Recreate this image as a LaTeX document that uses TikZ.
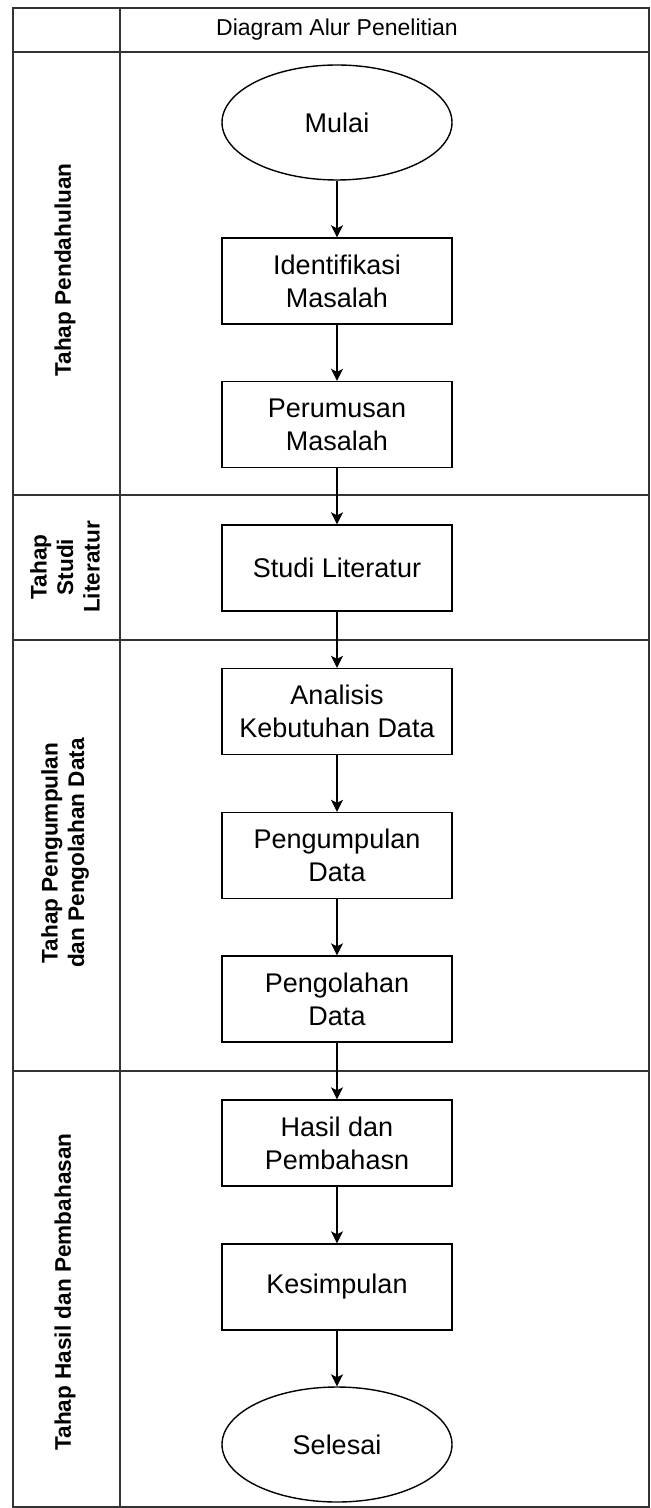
\documentclass[tikz,border=0pt]{standalone}
\usepackage{fontspec}
\setmainfont{Liberation Sans}
\usetikzlibrary{arrows.meta,shapes.geometric}

\begin{document}
\begin{tikzpicture}[x=0.5pt,y=-0.5pt]
		\useasboundingbox (0,0) rectangle (650,1508);
		
		\begin{scope}[draw=black!80,line width=0.8pt]
			\draw (13,8) rectangle (649,1507);
			\draw (120,8) -- (120,1507);
			\draw (13,52) -- (649,52);
			\draw (13,495) -- (649,495);
			\draw (13,640) -- (649,640);
			\draw (13,1071) -- (649,1071);
		\end{scope}
		
		\node (judul) at (337,30) {\fontsize{11.5}{13.5}\selectfont Diagram Alur Penelitian};
		
		\begin{scope}[every node/.style={rotate=90,align=center,font=\bfseries\fontsize{11.3}{13.25}\selectfont}]
			\node (pendahuluan) at (65,270) {Tahap Pendahuluan};
			\node (studi) at (65,567) {Tahap\\Studi\\Literatur};
			\node (pengumpulan) at (65,853) {Tahap Pengumpulan\\dan Pengolahan Data};
			\node (hasil) at (65,1292) {Tahap Hasil dan Pembahasan};
		\end{scope}
		
		\begin{scope}[every node/.style={draw=black,line width=0.7pt,align=center,
				minimum width=115pt,minimum height=43pt,inner sep=2pt,
				font=\fontsize{13.5}{16.5}\selectfont}]
			\node[ellipse,minimum height=57.5pt] (mulai) at (337,122.5) {Mulai};
			\node (identifikasi) at (337,281) {Identifikasi\\Masalah};
			\node (perumusan) at (337,424.5) {Perumusan\\Masalah};
			\node (literatur) at (337,568) {Studi Literatur};
			\node (analisis) at (337,711.5) {Analisis\\Kebutuhan Data};
			\node (kumpul) at (337,855.5) {Pengumpulan\\Data};
			\node (olah) at (337,999) {Pengolahan\\Data};
			\node (bahas) at (337,1143) {Hasil dan\\Pembahasn};
			\node (simpul) at (337,1287) {Kesimpulan};
			\node[ellipse,minimum height=57.5pt] (selesai) at (337,1444.5) {Selesai};
		\end{scope}
		
		\begin{scope}[>={Stealth[black,length=6pt,width=6pt,inset=1.5pt]},
				every edge/.style={draw=black,line width=0.7pt}]
			\path [->] (mulai) edge (identifikasi);
			\path [->] (identifikasi) edge (perumusan);
			\path [->] (perumusan) edge (literatur);
			\path [->] (literatur) edge (analisis);
			\path [->] (analisis) edge (kumpul);
			\path [->] (kumpul) edge (olah);
			\path [->] (olah) edge (bahas);
			\path [->] (bahas) edge (simpul);
			\path [->] (simpul) edge (selesai);
		\end{scope}
\end{tikzpicture}
\end{document}
